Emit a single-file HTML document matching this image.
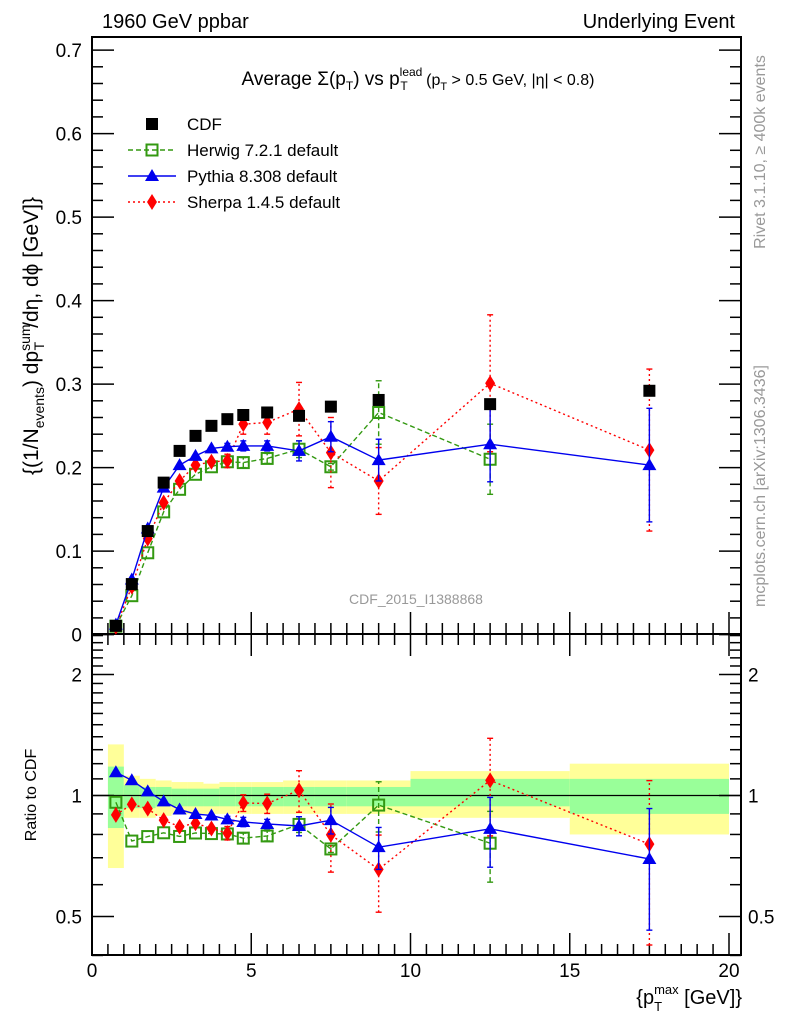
<!DOCTYPE html>
<html><head><meta charset="utf-8"><style>
html,body{margin:0;padding:0;background:#fff}
svg{display:block;font-family:"Liberation Sans",sans-serif}
</style></head><body>
<svg id="c" width="786" height="1024" viewBox="0 0 786 1024"></svg>
<script>
const xVals=[0.75,1.25,1.75,2.25,2.75,3.25,3.75,4.25,4.75,5.5,6.5,7.5,9,12.5,17.5];
const cdfVals=[0.0105,0.0605,0.124,0.182,0.220,0.238,0.250,0.258,0.263,0.266,0.262,0.273,0.281,0.276,0.292];
const herwigVals=[0.0101,0.0466,0.098,0.147,0.174,0.192,0.201,0.207,0.206,0.211,0.222,0.201,0.266,0.210];
const herwigErr=[0,0,0,0,0,0,0,0,0.006,0.006,0.01,0.004,0.038,0.042];
const pythiaVals=[0.012,0.066,0.127,0.176,0.203,0.214,0.223,0.225,0.226,0.226,0.220,0.237,0.209,0.228,0.203];
const pythiaErr=[0,0,0,0,0,0,0,0.004,0.006,0.006,0.012,0.018,0.025,0.045,0.068];
const sherpaVals=[0.0094,0.0575,0.115,0.158,0.184,0.203,0.207,0.208,0.252,0.254,0.270,0.218,0.184,0.301,0.221];
const sherpaErr=[0,0,0,0,0,0,0,0.008,0.012,0.014,0.032,0.042,0.04,0.082,0.097];
const bandEdges=[0.5,1,1.5,2,2.5,3,3.5,4,4.5,5,6,7,8,10,15,20];
const yellowHi=[1.34,1.12,1.1,1.09,1.08,1.08,1.07,1.08,1.08,1.08,1.09,1.09,1.09,1.15,1.2];
const yellowLo=[0.66,0.88,0.88,0.89,0.9,0.9,0.9,0.9,0.9,0.9,0.9,0.9,0.9,0.88,0.8];
const greenHi=[1.18,1.06,1.05,1.05,1.04,1.04,1.04,1.05,1.05,1.05,1.05,1.05,1.05,1.1,1.1];
const greenLo=[0.83,0.93,0.93,0.94,0.94,0.94,0.94,0.94,0.94,0.94,0.94,0.94,0.94,0.94,0.9];
const mainTicks=[0,0.1,0.2,0.3,0.4,0.5,0.6,0.7];
const xTicks=[0,5,10,15,20];

const NS="http://www.w3.org/2000/svg",svg=document.getElementById('c');
function el(t,a,p){const e=document.createElementNS(NS,t);for(const k in a)e.setAttribute(k,a[k]);(p||svg).appendChild(e);return e;}
const L=92,R=741,T=37,M=634,B=955;
const X=v=>L+v*31.85;
const Y=v=>634.6-v*835;
const RY=r=>795.5-121*Math.log2(r);

const gb=el('g',{});
for(let i=0;i<yellowHi.length;i++){
 const x0=X(bandEdges[i]),x1=X(bandEdges[i+1]);
 const y=el('rect',{x:x0,y:RY(yellowHi[i]),width:x1-x0,height:RY(yellowLo[i])-RY(yellowHi[i]),fill:'#ffff99'},gb);
 
 const g=el('rect',{x:x0,y:RY(greenHi[i]),width:x1-x0,height:RY(greenLo[i])-RY(greenHi[i]),fill:'#99ff99'},gb);
 
}
el('line',{x1:L,x2:R,y1:RY(1),y2:RY(1),stroke:'#000','stroke-width':1.3});

el('rect',{x:L,y:T,width:R-L,height:M-T,fill:'none',stroke:'#000','stroke-width':2});
el('rect',{x:L,y:M,width:R-L,height:B-M,fill:'none',stroke:'#000','stroke-width':2});

for(let v=0;v<=0.7001;v+=0.02){const maj=Math.abs(v*10-Math.round(v*10))<1e-6;const len=maj?22:11;const y=Y(v);
 el('line',{x1:L,x2:L+len,y1:y,y2:y,stroke:'#000','stroke-width':1.5});el('line',{x1:R,x2:R-len,y1:y,y2:y,stroke:'#000','stroke-width':1.5});}
mainTicks.forEach(v=>{const t=el('text',{x:82,y:Y(v)+7,'text-anchor':'end','font-size':19});t.textContent=v===0?'0':v.toFixed(1);
 });
[0.4,0.5,0.6,0.7,0.8,0.9,1,2].forEach(r=>{const maj=(r===0.5||r===1||r===2);const len=maj?22:11;const y=RY(r);
 el('line',{x1:L,x2:L+len,y1:y,y2:y,stroke:'#000','stroke-width':1.5});el('line',{x1:R,x2:R-len,y1:y,y2:y,stroke:'#000','stroke-width':1.5});});
for(let r=1.1;r<2.55;r+=0.1){if(Math.abs(r-2)<0.01)continue;const y=RY(r);if(y<M)continue;
 el('line',{x1:L,x2:L+11,y1:y,y2:y,stroke:'#000','stroke-width':1.5});el('line',{x1:R,x2:R-11,y1:y,y2:y,stroke:'#000','stroke-width':1.5});}
[[2,'2'],[1,'1'],[0.5,'0.5']].forEach(([r,s])=>{
 let t=el('text',{x:82,y:RY(r)+7,'text-anchor':'end','font-size':19});t.textContent=s;
 t=el('text',{x:748,y:RY(r)+7,'font-size':19});t.textContent=s;});
for(let v=0;v<=20.3;v+=0.5){const maj=Math.abs(v%5)<1e-6;const len=maj?22:11;const x=X(v);
 [M,B].forEach(yb=>el('line',{x1:x,x2:x,y1:yb,y2:yb-len,stroke:'#000','stroke-width':1.5}));
 el('line',{x1:x,x2:x,y1:M,y2:M+len,stroke:'#000','stroke-width':1.5});}
xTicks.forEach(v=>{const t=el('text',{x:X(v),y:977,'text-anchor':'middle','font-size':19});t.textContent=v;});

function marker(kind,x,y,g){
 let m;
 if(kind==='cdf')m=el('rect',{x:x-6,y:y-6,width:12,height:12,fill:'#000'},g);
 else if(kind==='herwig')m=el('rect',{x:x-5.5,y:y-5.5,width:11,height:11,fill:'none',stroke:'#339911','stroke-width':2},g);
 else if(kind==='pythia')m=el('polygon',{points:`${x},${y-7} ${x+7},${y+5} ${x-7},${y+5}`,fill:'#0000ee'},g);
 else m=el('polygon',{points:`${x},${y-8} ${x+5},${y} ${x},${y+8} ${x-5},${y}`,fill:'#ff0000'},g);
 
}
function series(kind,vals,errs,color,dash){
 const g=el('g',{});
 const gr=el('g',{});
 if(kind!=='cdf'){
  const pts=vals.map((v,i)=>X(xVals[i])+','+Y(v)).join(' ');
  el('polyline',{points:pts,fill:'none',stroke:color,'stroke-width':1.4,'stroke-dasharray':dash},g);
  const rp=vals.map((v,i)=>X(xVals[i])+','+RY(v/cdfVals[i])).join(' ');
  el('polyline',{points:rp,fill:'none',stroke:color,'stroke-width':1.4,'stroke-dasharray':dash},gr);
  vals.forEach((v,i)=>{const e=errs[i];if(!e)return;const x=X(xVals[i]);
   el('line',{x1:x,x2:x,y1:Y(v-e),y2:Y(v+e),stroke:color,'stroke-width':1.4,'stroke-dasharray':dash},g);
   [v-e,v+e].forEach(b=>el('line',{x1:x-3,x2:x+3,y1:Y(b),y2:Y(b),stroke:color,'stroke-width':1.4},g));
   const c=cdfVals[i];
   el('line',{x1:x,x2:x,y1:RY((v-e)/c),y2:RY((v+e)/c),stroke:color,'stroke-width':1.4,'stroke-dasharray':dash},gr);
   [v-e,v+e].forEach(b=>el('line',{x1:x-3,x2:x+3,y1:RY(b/c),y2:RY(b/c),stroke:color,'stroke-width':1.4},gr));});
  vals.forEach((v,i)=>{marker(kind,X(xVals[i]),Y(v),g);marker(kind,X(xVals[i]),RY(v/cdfVals[i]),gr);});
 } else vals.forEach((v,i)=>marker(kind,X(xVals[i]),Y(v),g));
}
series('herwig',herwigVals,herwigErr,'#339911','5,3');
series('sherpa',sherpaVals,sherpaErr,'#ff0000','2,3');
series('pythia',pythiaVals,pythiaErr,'#0000ee','');
series('cdf',cdfVals,[],'#000','');

const lg=el('g',{});
[['cdf','CDF','#000',''],['herwig','Herwig 7.2.1 default','#339911','5,3'],['pythia','Pythia 8.308 default','#0000ee',''],['sherpa','Sherpa 1.4.5 default','#ff0000','2,3']].forEach((d,i)=>{
 const y=124+i*26;const e=el('g',{},lg);
 if(i>0)el('line',{x1:128,x2:176,y1:y,y2:y,stroke:d[2],'stroke-width':1.4,'stroke-dasharray':d[3]},e);
 marker(d[0],152,y,e);
 const t=el('text',{x:187,y:y+6,'font-size':17},e);t.textContent=d[1];});
</script>
<svg width="786" height="1024" style="position:absolute;left:0;top:0" font-family="Liberation Sans, sans-serif">
<text x="102" y="28" font-size="20">1960 GeV ppbar</text>
<text x="735" y="28" font-size="20" text-anchor="end">Underlying Event</text>
<text x="418" y="85" font-size="19" text-anchor="middle">Average Σ(p<tspan font-size="12" dy="5">T</tspan><tspan dy="-5">) vs p</tspan><tspan font-size="12" dy="-9">lead</tspan><tspan font-size="12" dx="-22" dy="14">T</tspan><tspan font-size="16" dx="14" dy="-5"> (p</tspan><tspan font-size="11" dy="5">T</tspan><tspan font-size="16" dy="-5"> &gt; 0.5 GeV, |η| &lt; 0.8)</tspan></text>
<text transform="translate(38,336) rotate(-90)" font-size="21" text-anchor="middle">{(1/N<tspan font-size="14" dy="6">events</tspan><tspan dy="-6">) dp</tspan><tspan font-size="14" dy="-8">sum</tspan><tspan font-size="14" dx="-26" dy="14">T</tspan><tspan dx="14" dy="-6">/dη, dϕ [GeV]}</tspan></text>
<text transform="translate(36,795) rotate(-90)" font-size="16" text-anchor="middle">Ratio to CDF</text>
<text x="416" y="604" font-size="14" fill="#999" text-anchor="middle">CDF_2015_I1388868</text>
<text transform="translate(765,152) rotate(-90)" font-size="16" fill="#999" text-anchor="middle">Rivet 3.1.10, ≥ 400k events</text>
<text transform="translate(765,486) rotate(-90)" font-size="16" fill="#999" text-anchor="middle">mcplots.cern.ch [arXiv:1306.3436]</text>
<text x="742" y="1004" font-size="20" text-anchor="end">{p<tspan font-size="13" dy="7">T</tspan><tspan font-size="13" dx="-8" dy="-17">max</tspan><tspan dy="10"> [GeV]}</tspan></text>
</svg>
</body></html>
